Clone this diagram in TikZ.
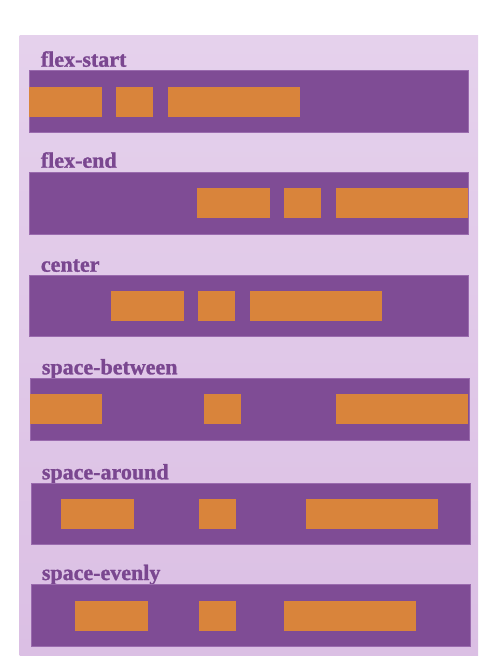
\documentclass[tikz,border=0pt]{standalone}
\usepackage{fontspec}
\setmainfont{Liberation Serif}
\newfontfamily\titrefont{Liberation Serif}[BoldFeatures={FakeBold=1.2}]
\usetikzlibrary{positioning}
\definecolor{fondhaut}{HTML}{E5D1EC}
\definecolor{fondbas}{HTML}{DBBFE4}
\definecolor{violetflex}{HTML}{7F4C95}
\definecolor{bordflex}{HTML}{9A6BAE}
\definecolor{orangeflex}{HTML}{D9843B}
\definecolor{titreflex}{HTML}{7A4790}

\begin{document}
\begin{tikzpicture}[x=1pt,y=-1pt,
  bande/.style={rectangle,draw=bordflex,line width=0.5pt,fill=violetflex,anchor=north west,inner sep=0pt,outer sep=0pt,minimum width=438.8pt,minimum height=61.5pt},
  boite/.style={rectangle,fill=orangeflex,anchor=north west,inner sep=0pt,outer sep=0pt,minimum height=30pt},
  petit/.style={boite,minimum width=36.7pt},
  moyen/.style={boite,minimum width=72.7pt},
  grand/.style={boite,minimum width=132pt},
  titre/.style={anchor=base west,inner sep=0pt,text=titreflex,font=\fontsize{22}{24}\titrefont\bfseries}]
\useasboundingbox (0,0) rectangle (490,660);
% fond du conteneur
\shade[top color=fondhaut,bottom color=fondbas] (19.5,36) rectangle (478,655.5);

% flex-start
\node (Tstart) at (40.7,66.7) [titre] {flex-start};
\node (Bstart) at (29.3,70.7) [bande] {};
\node (Sa) at (29.3,86.7) [moyen] {};
\node (Sb) [petit,right=14.3pt of Sa.north east,anchor=north west] {};
\node (Sc) [grand,right=15.3pt of Sb.north east,anchor=north west] {};

% flex-end
\node (Tend) at (40.7,167.7) [titre] {flex-end};
\node (Bend) at (29.3,172.7) [bande] {};
\node (Ea) at (197.3,188.3) [moyen] {};
\node (Eb) [petit,right=14pt of Ea.north east,anchor=north west] {};
\node (Ec) [grand,right=15.3pt of Eb.north east,anchor=north west] {};

% center
\node (Tcenter) at (40.7,271.7) [titre] {center};
\node (Bcenter) at (29.3,275) [bande] {};
\node (Ca) at (111,291.3) [moyen] {};
\node (Cb) [petit,right=14.3pt of Ca.north east,anchor=north west] {};
\node (Cc) [grand,right=15pt of Cb.north east,anchor=north west] {};

% space-between
\node (Tbetween) at (41.7,374.3) [titre] {space-between};
\node (Bbetween) at (30.3,378.3) [bande] {};
\node (Ba) at (29.7,394.3) [moyen] {};
\node (Bb) at (204.3,394.3) [petit] {};
\node (Bc) at (336,394.3) [grand] {};

% space-around
\node (Taround) at (41.7,479.3) [titre] {space-around};
\node (Baround) at (31,483) [bande] {};
\node (Aa) at (61.3,499) [moyen] {};
\node (Ab) at (199.3,499) [petit] {};
\node (Ac) at (306,499) [grand] {};

% space-evenly
\node (Tevenly) at (41.7,580) [titre] {space-evenly};
\node (Bevenly) at (31,584.7) [bande] {};
\node (Va) at (75,600.7) [moyen] {};
\node (Vb) at (199.3,600.7) [petit] {};
\node (Vc) at (284,600.7) [grand] {};
\end{tikzpicture}
\end{document}
